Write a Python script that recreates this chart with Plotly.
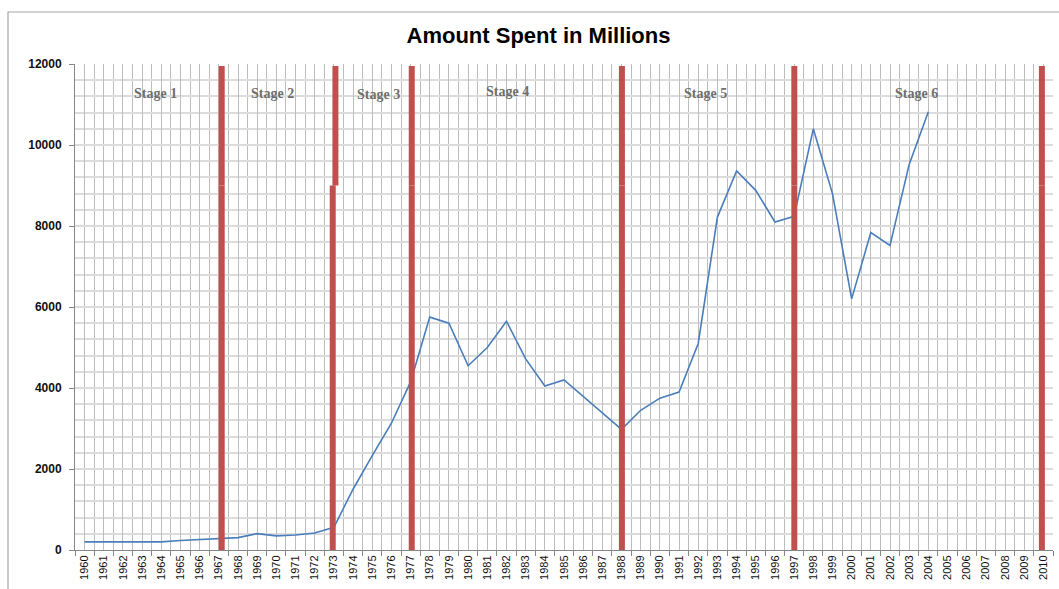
import plotly.graph_objects as go

# Annual spending, in millions
years = list(range(1960, 2005))
amount = [
    200, 200, 200, 200, 200, 235, 255, 290, 305, 405,
    350, 370, 420, 560, 1500, 2330, 3130, 4150, 5750, 5600,
    4550, 5000, 5650, 4720, 4050, 4200, 3800, 3380, 2980, 3450,
    3750, 3900, 5100, 8220, 9360, 8880, 8100, 8240, 10400, 8800,
    6200, 7840, 7520, 9520, 10820,
]

# Stage boundary markers: each bar is drawn as a lower and an upper piece
# meeting at boundary_split
boundary_bottom_x = [1967.15, 1972.94, 1977.06, 1988.02, 1997.01, 2009.92]
boundary_top_x = [1967.15, 1973.08, 1977.06, 1988.02, 1997.01, 2009.92]
boundary_split = 9000
boundary_top = 11950

# Stage captions
stage_names = ["Stage 1", "Stage 2", "Stage 3", "Stage 4", "Stage 5", "Stage 6"]
stage_x = [1963.70, 1969.82, 1975.31, 1982.05, 1992.36, 2003.40]
stage_y = [11280, 11280, 11240, 11320, 11280, 11280]

axis_years = list(range(1960, 2011))
y_ticks = [0, 2000, 4000, 6000, 8000, 10000, 12000]

RED = "#c0504d"

fig = go.Figure()

fig.add_trace(go.Scatter(
    x=years, y=amount, mode="lines",
    line=dict(color="#4a7ebb", width=1.6),
    showlegend=False, hoverinfo="x+y",
))

for xb, xt in zip(boundary_bottom_x, boundary_top_x):
    fig.add_trace(go.Scatter(
        x=[xb, xb], y=[0, boundary_split], mode="lines",
        line=dict(color=RED, width=6),
        showlegend=False, hoverinfo="skip",
    ))
    fig.add_trace(go.Scatter(
        x=[xt, xt], y=[boundary_split, boundary_top], mode="lines",
        line=dict(color=RED, width=6),
        showlegend=False, hoverinfo="skip",
    ))

for name, sx, sy in zip(stage_names, stage_x, stage_y):
    fig.add_annotation(
        x=sx, y=sy, text=name, showarrow=False,
        font=dict(family="Liberation Serif", size=14, color="#6e6e6e", weight="bold"),
        xanchor="center", yanchor="middle",
    )

fig.update_layout(
    width=1059, height=589,
    margin=dict(l=75, r=6, t=64, b=39),
    paper_bgcolor="white", plot_bgcolor="white",
    title=dict(
        text="<b>Amount Spent in Millions</b>",
        font=dict(family="Liberation Sans", size=22, color="#000000"),
        xref="container", x=0.5085, xanchor="center",
        yref="container", y=1 - 35 / 589, yanchor="middle",
    ),
    shapes=[dict(
        type="rect", xref="paper", yref="paper",
        x0=(8 - 75) / 978, x1=1.02, y0=-0.12, y1=(550 - 12) / 486,
        line=dict(color="#a6a6a6", width=1.2), fillcolor="rgba(0,0,0,0)",
        layer="below",
    )],
)

fig.update_xaxes(
    range=[1959.5, 2010.5],
    tickmode="array", tickvals=axis_years, ticktext=[str(v) for v in axis_years],
    tickangle=-90,
    tickfont=dict(family="Liberation Sans", size=11, color="#111111"),
    ticks="",
    showgrid=True, gridcolor="#bdbdbd", gridwidth=1,
    minor=dict(tickmode="linear", tick0=1959.5, dtick=1,
               showgrid=True, gridcolor="#bdbdbd", gridwidth=1,
               ticks="outside", ticklen=5, tickcolor="#868686"),
    showline=True, linecolor="#868686", linewidth=1,
    zeroline=False, fixedrange=True,
)

fig.update_yaxes(
    range=[0, 12000],
    tickmode="array", tickvals=y_ticks, ticktext=[str(v) for v in y_ticks],
    tickfont=dict(family="Liberation Sans", size=12, color="#111111", weight="bold"),
    ticks="outside", ticklen=5, tickcolor="#868686", ticklabelstandoff=5,
    showgrid=True, gridcolor="#dcdcdc", gridwidth=2,
    minor=dict(tickmode="linear", tick0=0, dtick=400,
               showgrid=True, gridcolor="#dcdcdc", gridwidth=2, ticks=""),
    showline=True, linecolor="#868686", linewidth=1,
    zeroline=False, fixedrange=True,
)

fig.write_html("out.html")
